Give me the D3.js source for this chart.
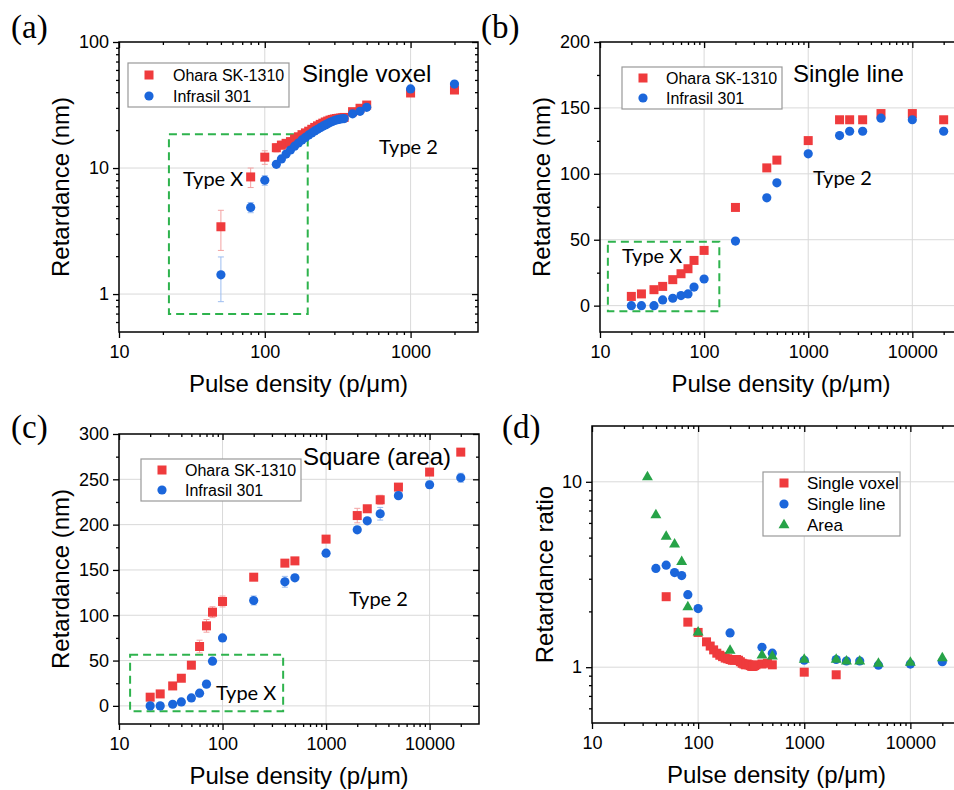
<!DOCTYPE html>
<html><head><meta charset="utf-8">
<script src="https://cdn.jsdelivr.net/npm/d3@7"></script>
<style>body{margin:0;background:#fff}svg{display:block}</style>
</head><body>
<svg id="c" width="954" height="790"></svg>
<script>
// ---------- DATA ----------
const voxelX = [50, 80, 100, 120, 130, 140, 150, 160, 170, 180, 190, 200, 210, 220, 230, 240, 250, 260, 270, 280, 290, 300, 310, 320, 330, 340, 350, 400, 450, 500, 1000, 2000];
const voxelOhara = [3.42, 8.5, 12.2, 14.5, 15.2, 15.7, 16.2, 17.0, 17.7, 18.4, 19.0, 19.6, 20.3, 21.0, 21.6, 22.2, 22.7, 23.2, 23.6, 24.0, 24.3, 24.5, 24.7, 24.8, 24.9, 25.0, 25.2, 28.0, 29.8, 31.6, 39.4, 41.6];
const voxelOharaErr = [1.2, 1.5, 1.5, 1.1, 1.1, 1.1, 1.1, 1.1, 1.1, 1.1, 1.1, 1.1, 1.1, 1.1, 1.1, 1.1, 1.0, 1.0, 1.0, 1.0, 1.0, 1.0, 1.0, 1.0, 1.0, 1.0, 1.0, 0.8, 0.8, 0.8, 1.0, 1.0];
const voxelInfrasil = [1.42, 4.87, 8.0, 10.7, 11.8, 12.9, 13.9, 14.9, 15.8, 16.7, 17.5, 18.3, 19.0, 19.7, 20.3, 20.9, 21.5, 22.0, 22.5, 23.0, 23.4, 23.8, 24.1, 24.3, 24.5, 24.6, 24.7, 26.9, 28.2, 30.3, 42.4, 46.4];
const voxelInfrasilErr = [0.55, 0.45, 0.7, 0.6, 0.6, 0.6, 0.6, 0.6, 0.6, 0.6, 0.6, 0.6, 0.6, 0.6, 0.6, 0.6, 0.6, 0.6, 0.6, 0.6, 0.6, 0.6, 0.6, 0.6, 0.6, 0.6, 0.6, 0.6, 0.6, 0.6, 0.8, 0.8];

const lineX = [20, 25, 33, 40, 50, 60, 70, 80, 100, 200, 400, 500, 1000, 2000, 2500, 3333, 5000, 10000, 20000];
const lineOhara = [7.0, 8.9, 12.1, 14.6, 19.7, 24.2, 28.0, 34.3, 41.9, 74.5, 104.5, 110.4, 125.2, 141, 141, 141, 145.7, 145.7, 141];
const lineInfrasil = [0, 0, 0, 4.3, 5.6, 7.6, 8.9, 14.1, 20.2, 49, 81.8, 93.2, 115.2, 129, 132.3, 132.3, 142.2, 141, 132.3];

const areaX = [20, 25, 33, 40, 50, 60, 70, 80, 100, 200, 400, 500, 1000, 2000, 2500, 3333, 5000, 10000, 20000];
const areaOhara = [9.6, 13.2, 22, 30.5, 44.9, 65.5, 88.3, 103.4, 115.2, 142, 157.5, 160, 184, 210, 217.5, 227.4, 241.4, 258, 280];
const areaOharaErr = [1, 1, 1.5, 1.5, 2, 7, 7, 6, 6, 3, 3, 3, 3, 8, 3, 5, 3, 3, 2];
const areaInfrasil = [0, 0, 1.8, 4.4, 8.8, 14, 24, 49.3, 75, 116.3, 136.9, 141.3, 168.5, 194.3, 204.2, 212, 232, 244, 251.7];
const areaInfrasilErr = [1, 1, 1, 1, 1, 1, 1.5, 2, 2, 5, 6, 3, 3, 3, 3, 7, 3, 4, 5];

const ratioVoxelX = voxelX;
const ratioVoxel = [2.40, 1.75, 1.54, 1.37, 1.30, 1.24, 1.19, 1.16, 1.14, 1.12, 1.11, 1.10, 1.09, 1.09, 1.10, 1.09, 1.07, 1.05, 1.04, 1.03, 1.04, 1.03, 1.02, 1.01, 1.01, 1.02, 1.03, 1.04, 1.05, 1.03, 0.94, 0.91];
const ratioLineX = [40, 50, 60, 70, 80, 100, 200, 400, 500, 1000, 2000, 2500, 3333, 5000, 10000, 20000];
const ratioLine = [3.41, 3.55, 3.24, 3.12, 2.46, 2.07, 1.53, 1.28, 1.19, 1.09, 1.10, 1.08, 1.08, 1.025, 1.04, 1.07];
const ratioAreaX = [33.3, 40, 50, 60, 70, 80, 100, 200, 400, 500, 1000, 2000, 2500, 3333, 5000, 10000, 20000];
const ratioArea = [10.6, 6.62, 5.06, 4.6, 3.7, 2.11, 1.54, 1.23, 1.16, 1.146, 1.10, 1.10, 1.077, 1.077, 1.047, 1.06, 1.12];

const xTickLabels = ["10", "100", "1000", "10000"];
const seriesNamesAB = ["Ohara SK-1310", "Infrasil 301"];
const seriesNamesD = ["Single voxel", "Single line", "Area"];

// ---------- STYLE ----------
const svg = d3.select('#c');
const FONT = "'Liberation Sans', Arial, sans-serif";
const RED = '#ef3b3d', BLUE = '#1b66db', GREEN = '#27a348', BOXC = '#2eb34d';
const RED_E = '#f3a2a2', BLUE_E = '#9dbdf0';

function zip(xs, ys, es) { return xs.map((x, i) => ({x, y: ys[i], e: es ? es[i] : 0})); }

function panel(cfg) {
  const g = svg.append('g');
  const x = d3.scaleLog().domain(cfg.xd).range([cfg.l, cfg.r]);
  const y = (cfg.ylog ? d3.scaleLog() : d3.scaleLinear()).domain(cfg.yd).range([cfg.b, cfg.t]);
  const xMajor = xTickLabels.map(Number).filter(v => v >= cfg.xd[0] && v <= cfg.xd[1]);
  const xMinor = [];
  [10, 100, 1000, 10000].forEach(d => { for (let k = 2; k <= 9; k++) { const v = d * k; if (v > cfg.xd[0] && v < cfg.xd[1]) xMinor.push(v); } });
  // grid
  g.selectAll('.gx').data(xMajor.filter(v => v > cfg.xd[0])).enter().append('line')
    .attr('x1', d => x(d)).attr('x2', d => x(d)).attr('y1', cfg.t).attr('y2', cfg.b)
    .attr('stroke', '#d9d9d9').attr('stroke-width', 1);
  g.selectAll('.gy').data(cfg.yMajor.filter(v => v < cfg.yd[1])).enter().append('line')
    .attr('x1', cfg.l).attr('x2', cfg.r).attr('y1', d => y(d)).attr('y2', d => y(d))
    .attr('stroke', '#d9d9d9').attr('stroke-width', 1);
  // axes
  function styleAxis(sel) {
    sel.select('.domain').remove();
    sel.selectAll('line').attr('stroke', '#000').attr('stroke-width', 1.3);
    sel.selectAll('text').attr('font-size', 18).attr('font-family', FONT).attr('fill', '#000');
  }
  g.append('g').attr('transform', `translate(0,${cfg.b})`)
    .call(d3.axisBottom(x).tickValues(xMajor).tickFormat(d3.format('d')).tickSize(6).tickPadding(7)).call(styleAxis);
  g.append('g').attr('transform', `translate(0,${cfg.b})`)
    .call(d3.axisBottom(x).tickValues(xMinor).tickFormat('').tickSize(3)).call(styleAxis);
  g.append('g').attr('transform', `translate(0,${cfg.t})`)
    .call(d3.axisTop(x).tickValues(xMajor).tickFormat('').tickSize(-6)).call(styleAxis);
  g.append('g').attr('transform', `translate(0,${cfg.t})`)
    .call(d3.axisTop(x).tickValues(xMinor).tickFormat('').tickSize(-3)).call(styleAxis);
  g.append('g').attr('transform', `translate(${cfg.l},0)`)
    .call(d3.axisLeft(y).tickValues(cfg.yMajor).tickFormat(cfg.yFmt).tickSize(6).tickPadding(4)).call(styleAxis);
  g.append('g').attr('transform', `translate(${cfg.l},0)`)
    .call(d3.axisLeft(y).tickValues(cfg.yMinor).tickFormat('').tickSize(3)).call(styleAxis);
  g.append('g').attr('transform', `translate(${cfg.r},0)`)
    .call(d3.axisRight(y).tickValues(cfg.yMajor).tickFormat('').tickSize(-6)).call(styleAxis);
  g.append('g').attr('transform', `translate(${cfg.r},0)`)
    .call(d3.axisRight(y).tickValues(cfg.yMinor).tickFormat('').tickSize(-3)).call(styleAxis);
  g.append('rect').attr('x', cfg.l).attr('y', cfg.t).attr('width', cfg.r - cfg.l).attr('height', cfg.b - cfg.t)
    .attr('fill', 'none').attr('stroke', '#000').attr('stroke-width', 1.5);
  // axis titles
  g.append('text').attr('x', (cfg.l + cfg.r) / 2).attr('y', cfg.b + 60).attr('text-anchor', 'middle')
    .attr('font-family', FONT).attr('font-size', 24).text('Pulse density (p/\u03bcm)');
  g.append('text').attr('transform', `translate(${cfg.yl},${(cfg.t + cfg.b) / 2}) rotate(-90)`).attr('text-anchor', 'middle')
    .attr('font-family', FONT).attr('font-size', 24).text(cfg.ytitle);
  // panel letter
  g.append('text').attr('x', cfg.lx).attr('y', cfg.ly).attr('font-family', "'Liberation Serif', 'Times New Roman', serif")
    .attr('font-size', 33).text(cfg.letter);
  // dashed box
  if (cfg.box) {
    g.append('rect').attr('x', x(cfg.box[0])).attr('y', y(cfg.box[3]))
      .attr('width', x(cfg.box[1]) - x(cfg.box[0])).attr('height', y(cfg.box[2]) - y(cfg.box[3]))
      .attr('fill', 'none').attr('stroke', BOXC).attr('stroke-width', 2).attr('stroke-dasharray', '8,5');
  }
  return {g, x, y};
}

function errorBars(p, data, color) {
  const gg = p.g.append('g').attr('stroke', color).attr('stroke-width', 1);
  data.filter(d => d.e > 0).forEach(d => {
    const cx = p.x(d.x), y1 = p.y(d.y - d.e), y2 = p.y(d.y + d.e);
    gg.append('line').attr('x1', cx).attr('x2', cx).attr('y1', y1).attr('y2', y2);
    gg.append('line').attr('x1', cx - 3).attr('x2', cx + 3).attr('y1', y1).attr('y2', y1);
    gg.append('line').attr('x1', cx - 3).attr('x2', cx + 3).attr('y1', y2).attr('y2', y2);
  });
}
function squares(p, data, color) {
  p.g.append('g').selectAll('rect').data(data).enter().append('rect')
    .attr('x', d => p.x(d.x) - 4.5).attr('y', d => p.y(d.y) - 4.5).attr('width', 9).attr('height', 9).attr('fill', color);
}
function circles(p, data, color) {
  p.g.append('g').selectAll('circle').data(data).enter().append('circle')
    .attr('cx', d => p.x(d.x)).attr('cy', d => p.y(d.y)).attr('r', 4.6).attr('fill', color);
}
const triPath = d3.symbol(d3.symbolTriangle).size(52)();
function triangles(p, data, color) {
  p.g.append('g').selectAll('path').data(data).enter().append('path')
    .attr('d', triPath).attr('transform', d => `translate(${p.x(d.x)},${p.y(d.y)})`).attr('fill', color);
}
function label(p, x, y, txt, size, fam) {
  p.g.append('text').attr('x', x).attr('y', y).attr('font-family', fam || FONT).attr('font-size', size).text(txt);
}
function legend(p, bx, by, bw, bh, items, mx, tx, fs) {
  p.g.append('rect').attr('x', bx).attr('y', by).attr('width', bw).attr('height', bh)
    .attr('fill', '#fff').attr('stroke', '#999').attr('stroke-width', 1.2);
  items.forEach((it, i) => {
    const cy = it.cy;
    if (it.shape === 'sq') p.g.append('rect').attr('x', mx - 4.5).attr('y', cy - 4.5).attr('width', 9).attr('height', 9).attr('fill', it.color);
    else if (it.shape === 'ci') p.g.append('circle').attr('cx', mx).attr('cy', cy).attr('r', 4.6).attr('fill', it.color);
    else p.g.append('path').attr('d', triPath).attr('transform', `translate(${mx},${cy})`).attr('fill', it.color);
    label(p, tx, cy + 6, it.name, fs);
  });
}
const TYPEFONT = "Lato, 'Open Sans', sans-serif";

// ---------- PANEL (a) ----------
const pa = panel({l: 119, r: 478, t: 42, b: 332, xd: [10, 2900], yd: [0.5, 100], ylog: true,
  yMajor: [1, 10, 100], yMinor: [0.6, 0.7, 0.8, 0.9, 2, 3, 4, 5, 6, 7, 8, 9, 20, 30, 40, 50, 60, 70, 80, 90],
  yFmt: d3.format('d'), ytitle: 'Retardance (nm)', yl: 69, letter: '(a)', lx: 11, ly: 38,
  box: [22, 197, 0.695, 18.5]});
const aR = zip(voxelX, voxelOhara, voxelOharaErr), aB = zip(voxelX, voxelInfrasil, voxelInfrasilErr);
errorBars(pa, aR, RED_E); errorBars(pa, aB, BLUE_E);
squares(pa, aR, RED); circles(pa, aB, BLUE);
label(pa, 302, 82, 'Single voxel', 24);
label(pa, 183, 186, 'Type X', 20, TYPEFONT);
label(pa, 379, 154, 'Type 2', 20, TYPEFONT);
legend(pa, 128, 63, 161, 44, [{shape: 'sq', color: RED, name: seriesNamesAB[0], cy: 75}, {shape: 'ci', color: BLUE, name: seriesNamesAB[1], cy: 96}], 149, 173, 16);

// ---------- PANEL (b) ----------
const pb = panel({l: 600, r: 962, t: 42, b: 332, xd: [10, 30000], yd: [-20, 200], ylog: false,
  yMajor: [0, 50, 100, 150, 200], yMinor: [-25, 25, 75, 125, 175].filter(v => v > -20),
  yFmt: d3.format('d'), ytitle: 'Retardance (nm)', yl: 550, letter: '(b)', lx: 481, ly: 38,
  box: [11.9, 140, -4.3, 48.5]});
squares(pb, zip(lineX, lineOhara), RED); circles(pb, zip(lineX, lineInfrasil), BLUE);
label(pb, 793, 82, 'Single line', 24);
label(pb, 622, 263, 'Type X', 20, TYPEFONT);
label(pb, 813, 185, 'Type 2', 20, TYPEFONT);
legend(pb, 622, 67, 160, 42, [{shape: 'sq', color: RED, name: seriesNamesAB[0], cy: 78}, {shape: 'ci', color: BLUE, name: seriesNamesAB[1], cy: 98}], 643, 666, 16);

// ---------- PANEL (c) ----------
const pc = panel({l: 119, r: 479, t: 434, b: 724, xd: [10, 30000], yd: [-20, 300], ylog: false,
  yMajor: [0, 50, 100, 150, 200, 250, 300], yMinor: [25, 75, 125, 175, 225, 275],
  yFmt: d3.format('d'), ytitle: 'Retardance (nm)', yl: 69, letter: '(c)', lx: 11, ly: 438,
  box: [12.8, 385, -5.9, 56.3]});
const cR = zip(areaX, areaOhara, areaOharaErr), cB = zip(areaX, areaInfrasil, areaInfrasilErr);
errorBars(pc, cR, RED_E); errorBars(pc, cB, BLUE_E);
squares(pc, cR, RED); circles(pc, cB, BLUE);
label(pc, 303, 465, 'Square (area)', 24);
label(pc, 216, 700, 'Type X', 20, TYPEFONT);
label(pc, 349, 606, 'Type 2', 20, TYPEFONT);
legend(pc, 141, 459, 160, 42, [{shape: 'sq', color: RED, name: seriesNamesAB[0], cy: 470}, {shape: 'ci', color: BLUE, name: seriesNamesAB[1], cy: 490}], 162, 185, 16);

// ---------- PANEL (d) ----------
const pd = panel({l: 592, r: 961, t: 426, b: 723, xd: [10, 30000], yd: [0.5, 20], ylog: true,
  yMajor: [1, 10], yMinor: [0.6, 0.7, 0.8, 0.9, 2, 3, 4, 5, 6, 7, 8, 9],
  yFmt: d3.format('d'), ytitle: 'Retardance ratio', yl: 553, letter: '(d)', lx: 502, ly: 438});
squares(pd, zip(ratioVoxelX, ratioVoxel), RED);
circles(pd, zip(ratioLineX, ratioLine), BLUE);
triangles(pd, zip(ratioAreaX, ratioArea), GREEN);
legend(pd, 763, 472, 137, 64, [{shape: 'sq', color: RED, name: seriesNamesD[0], cy: 483}, {shape: 'ci', color: BLUE, name: seriesNamesD[1], cy: 504}, {shape: 'tr', color: GREEN, name: seriesNamesD[2], cy: 525}], 784, 807, 17);
</script>
</body></html>
